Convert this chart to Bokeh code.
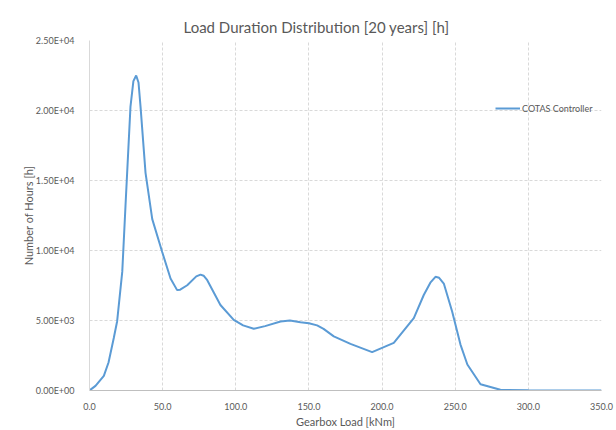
from bokeh.plotting import figure
from bokeh.models import Range1d, FixedTicker, NumeralTickFormatter, Legend, LegendItem
from bokeh.embed import file_html
from bokeh.resources import INLINE

# ---- data ----
load_knm = [0, 4.1, 9.8, 13, 16.6, 18.9, 22.4, 24.6, 28.0, 30.0, 31.9, 33.5, 34.9, 38.3, 42.9, 49.7,
            55.4, 59.9, 62, 66.8, 73, 75.9, 78, 80.5, 89.5, 98.6, 105, 112.3, 120, 130.6, 137, 144.2,
            150, 155.6, 160, 167, 178.4, 193.2, 208, 221.7, 228.5, 233, 236.5, 239, 242.2, 247.9,
            253.6, 258.3, 267.3, 280.9, 300, 350]
hours = [0, 330, 1040, 2000, 3750, 4950, 8490, 13180, 20260, 22100, 22500, 22000, 20260, 15550, 12240, 9890,
         8000, 7170, 7200, 7520, 8150, 8280, 8200, 7880, 6110, 5050, 4650, 4410, 4600, 4930, 5000, 4880,
         4800, 4650, 4400, 3870, 3330, 2740, 3400, 5170, 6820, 7700, 8120, 8050, 7640, 5640,
         3280, 1860, 450, 50, 15, 0]

x_ticks = [0, 50, 100, 150, 200, 250, 300, 350]
y_ticks = [0, 5000, 10000, 15000, 20000, 25000]
y_tick_labels = ["0.00E+00", "5.00E+03", "1.00E+04", "1.50E+04", "2.00E+04", "2.50E+04"]

series_name = "COTAS Controller"
title_text = "Load Duration Distribution [20 years] [h]"
x_label = "Gearbox Load [kNm]"
y_label = "Number of Hours [h]"

FONT = "Lato"
TXT = "#595959"
BLUE = "#5B9BD5"

p = figure(width=614, height=430, output_backend="svg", toolbar_location=None,
           x_range=Range1d(0, 350), y_range=Range1d(0, 25000),
           min_border_left=89, min_border_right=13, min_border_top=40, min_border_bottom=37)

p.title.text = title_text
p.title.align = "left"
p.title.offset = 94
p.title.text_font = FONT
p.title.text_font_size = "15px"
p.title.text_font_style = "normal"
p.title.text_color = TXT

r = p.line(load_knm, hours, line_color=BLUE, line_width=2)

p.outline_line_color = None

p.xaxis.ticker = FixedTicker(ticks=x_ticks)
p.xaxis.formatter = NumeralTickFormatter(format="0.0")
p.yaxis.ticker = FixedTicker(ticks=y_ticks)
p.yaxis.major_label_overrides = {t: l for t, l in zip(y_ticks, y_tick_labels)}

for ax in (p.xaxis[0], p.yaxis[0]):
    ax.major_tick_line_color = None
    ax.minor_tick_line_color = None
    ax.major_label_text_font = FONT
    ax.major_label_text_font_size = "9px"
    ax.major_label_text_color = TXT
    ax.axis_label_text_font = FONT
    ax.axis_label_text_font_size = "11px"
    ax.axis_label_text_font_style = "normal"
    ax.axis_label_text_color = TXT

p.xaxis.axis_label = x_label
p.yaxis.axis_label = y_label
p.xaxis.axis_line_color = "#bfbfbf"
p.yaxis.axis_line_color = "#d9d9d9"
p.xaxis.major_label_standoff = 6
p.xaxis.axis_label_standoff = 2
p.yaxis.major_label_standoff = 9
p.yaxis.axis_label_standoff = -2

p.grid.grid_line_color = "#d9d9d9"
p.grid.grid_line_dash = "3 2"
p.grid.grid_line_width = 1

legend = Legend(items=[LegendItem(label=series_name, renderers=[r])],
                location=(406, 275), padding=0, margin=0, spacing=0,
                glyph_width=25, glyph_height=14, label_height=14, label_standoff=2,
                label_text_font=FONT, label_text_font_size="9px", label_text_color=TXT,
                background_fill_alpha=0, border_line_color=None)
p.add_layout(legend)

open("out.html", "w").write(file_html(p, INLINE))
